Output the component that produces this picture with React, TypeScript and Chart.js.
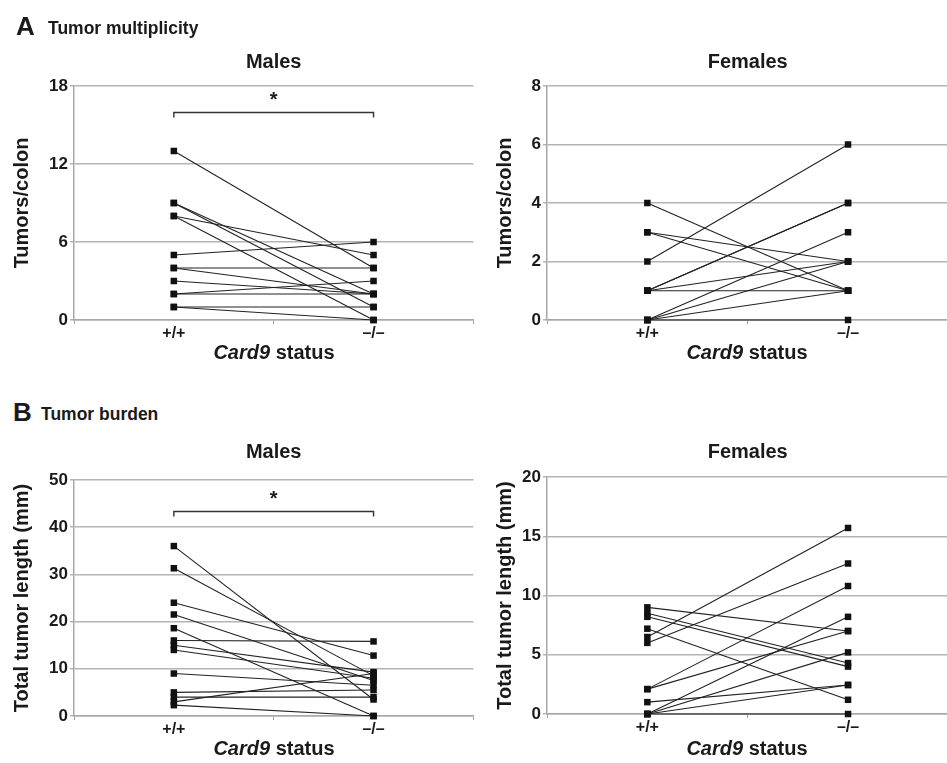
import React, { useEffect, useRef } from 'react';
import { Chart, registerables } from 'chart.js';

Chart.register(...registerables);

const FONT = "'Liberation Sans', Arial, Helvetica, sans-serif";
const INK = '#1a1a1a';

// Genotype categories on the x axis
const GENOTYPES = ['+/+', '\u2013/\u2013'];

// Panel A – tumor multiplicity (tumors/colon); one line per mouse (+/+ value -> –/– value)
const A_MALE_WT = [13, 9, 9, 8, 8, 5, 4, 4, 3, 2, 2, 1, 1];
const A_MALE_KO = [4, 2, 1, 5, 0, 6, 4, 2, 2, 3, 2, 1, 0];
const A_FEMALE_WT = [4, 3, 3, 2, 1, 1, 1, 1, 0, 0, 0, 0];
const A_FEMALE_KO = [1, 2, 1, 6, 4, 4, 2, 1, 3, 2, 1, 0];

// Panel B – tumor burden (total tumor length, mm)
const B_MALE_WT = [36, 31.3, 24, 21.5, 18.6, 16, 15, 14, 9, 5, 4, 3, 2.3];
const B_MALE_KO = [3.5, 8.5, 12.8, 7.5, 0, 15.8, 9.3, 8, 6.5, 5.5, 4, 9, 0];
const B_FEMALE_WT = [9.0, 8.5, 8.2, 7.2, 6.5, 6.0, 2.1, 2.1, 1.0, 0, 0, 0, 0];
const B_FEMALE_KO = [7.0, 4.3, 4.0, 1.2, 15.7, 12.7, 10.8, 7.0, 2.45, 8.2, 5.2, 2.45, 0];

// Axis ranges [max, step]
const A_MALE_AXIS = [18, 6];
const A_FEMALE_AXIS = [8, 2];
const B_MALE_AXIS = [50, 10];
const B_FEMALE_AXIS = [20, 5];

// Significance bracket levels (in data units)
const A_MALE_SIG = 16;
const B_MALE_SIG = 43.5;

const sigPlugin = {
  id: 'sig',
  afterDatasetsDraw(chart: any, _args: any, opts: any) {
    if (!opts || opts.value == null) return;
    const { ctx } = chart;
    const x0 = chart.scales.x.getPixelForValue(0);
    const x1 = chart.scales.x.getPixelForValue(1);
    const y = Math.round(chart.scales.y.getPixelForValue(opts.value)) + 0.5;
    ctx.save();
    ctx.strokeStyle = '#333';
    ctx.lineWidth = 1.4;
    ctx.beginPath();
    ctx.moveTo(x0, y + 5);
    ctx.lineTo(x0, y);
    ctx.lineTo(x1, y);
    ctx.lineTo(x1, y + 5);
    ctx.stroke();
    ctx.fillStyle = INK;
    ctx.font = `bold 20px ${FONT}`;
    ctx.textAlign = 'center';
    ctx.textBaseline = 'alphabetic';
    ctx.fillText('*', (x0 + x1) / 2, y - 7);
    ctx.restore();
  },
};

type PanelProps = {
  left: number;
  top: number;
  width: number;
  height: number;
  title: string;
  titleTop: number;
  titleBottom: number;
  yTitle: string;
  yTitlePad: number;
  yAxisWidth: number;
  wt: number[];
  ko: number[];
  axis: number[];
  sig?: number;
};

function Panel(p: PanelProps) {
  const ref = useRef<HTMLCanvasElement | null>(null);
  useEffect(() => {
    if (!ref.current) return;
    const datasets = p.wt.map((v, i) => ({
      data: [v, p.ko[i]],
      borderColor: '#222',
      borderWidth: 1.1,
      pointStyle: 'rect',
      pointRadius: 4.6,
      pointBackgroundColor: '#111',
      pointBorderColor: '#111',
      pointBorderWidth: 0,
      fill: false,
      tension: 0,
      clip: false,
    }));
    const chart = new Chart(ref.current, {
      type: 'line',
      data: { labels: GENOTYPES, datasets: datasets as any },
      options: {
        animation: false,
        responsive: false,
        layout: { padding: 0 },
        plugins: {
          legend: { display: false },
          tooltip: { enabled: false },
          title: {
            display: true,
            text: p.title,
            fullSize: false,
            color: INK,
            font: { family: FONT, size: 20, weight: 'bold', lineHeight: 1.2 },
            padding: { top: p.titleTop, bottom: p.titleBottom },
          },
          sig: p.sig != null ? { value: p.sig } : false,
        } as any,
        scales: {
          x: {
            offset: true,
            grid: {
              display: true,
              offset: true,
              drawOnChartArea: false,
              drawTicks: true,
              tickLength: 4,
              color: '#a0a0a0',
              lineWidth: 1,
            },
            border: { color: '#a8a8a8', width: 1.5 },
            ticks: {
              color: INK,
              font: { family: FONT, size: 16, weight: 'bold' },
              padding: 0,
              maxRotation: 0,
            },
            afterFit: (s: any) => {
              s.height = 30;
            },
          },
          y: {
            min: 0,
            max: p.axis[0],
            ticks: {
              stepSize: p.axis[1],
              color: INK,
              font: { family: FONT, size: 17, weight: 'bold' },
              padding: 2,
            },
            grid: { color: '#b4b4b4', lineWidth: 1.5, tickLength: 4 },
            border: { color: '#a8a8a8', width: 1.5 },
            title: {
              display: true,
              text: p.yTitle,
              color: INK,
              font: { family: FONT, size: 20, weight: 'bold', lineHeight: 1.2 },
              padding: { top: p.yTitlePad, bottom: 0 },
            },
            afterFit: (s: any) => {
              s.width = p.yAxisWidth;
            },
          },
        },
      } as any,
      plugins: [sigPlugin],
    });
    return () => chart.destroy();
  }, []);
  return (
    <canvas
      ref={ref}
      width={p.width}
      height={p.height}
      style={{ position: 'absolute', left: p.left, top: p.top, width: p.width, height: p.height }}
    />
  );
}

function Label(props: { x: number; y: number; size: number; center?: boolean; children: any }) {
  return (
    <div
      style={{
        position: 'absolute',
        left: props.x,
        top: props.y,
        transform: props.center ? 'translate(-50%, -50%)' : 'translateY(-50%)',
        fontFamily: FONT,
        fontWeight: 'bold',
        fontSize: props.size,
        lineHeight: 1,
        color: INK,
        whiteSpace: 'nowrap',
      }}
    >
      {props.children}
    </div>
  );
}

export default function App() {
  return (
    <div
      style={{
        position: 'absolute',
        left: 0,
        top: 0,
        width: 947,
        height: 763,
        background: '#fff',
        overflow: 'hidden',
      }}
    >
      <Panel
        left={0}
        top={40}
        width={478}
        height={310}
        title="Males"
        titleTop={10}
        titleBottom={12}
        yTitle="Tumors/colon"
        yTitlePad={10}
        yAxisWidth={74}
        wt={A_MALE_WT}
        ko={A_MALE_KO}
        axis={A_MALE_AXIS}
        sig={A_MALE_SIG}
      />
      <Panel
        left={474}
        top={40}
        width={479}
        height={310}
        title="Females"
        titleTop={10}
        titleBottom={12}
        yTitle="Tumors/colon"
        yTitlePad={19}
        yAxisWidth={73}
        wt={A_FEMALE_WT}
        ko={A_FEMALE_KO}
        axis={A_FEMALE_AXIS}
      />
      <Panel
        left={0}
        top={430}
        width={478}
        height={316}
        title="Males"
        titleTop={10}
        titleBottom={16}
        yTitle="Total tumor length (mm)"
        yTitlePad={10}
        yAxisWidth={74}
        wt={B_MALE_WT}
        ko={B_MALE_KO}
        axis={B_MALE_AXIS}
        sig={B_MALE_SIG}
      />
      <Panel
        left={474}
        top={430}
        width={479}
        height={314}
        title="Females"
        titleTop={10}
        titleBottom={13}
        yTitle="Total tumor length (mm)"
        yTitlePad={19}
        yAxisWidth={73}
        wt={B_FEMALE_WT}
        ko={B_FEMALE_KO}
        axis={B_FEMALE_AXIS}
      />

      <Label x={16} y={26} size={26}>A</Label>
      <Label x={48} y={29} size={17.5}>Tumor multiplicity</Label>
      <Label x={13} y={412} size={26}>B</Label>
      <Label x={41} y={415} size={17.5}>Tumor burden</Label>

      <Label x={274} y={352} size={20} center>
        <i>Card9</i> status
      </Label>
      <Label x={747} y={352} size={20} center>
        <i>Card9</i> status
      </Label>
      <Label x={274} y={748} size={20} center>
        <i>Card9</i> status
      </Label>
      <Label x={747} y={748} size={20} center>
        <i>Card9</i> status
      </Label>
    </div>
  );
}
